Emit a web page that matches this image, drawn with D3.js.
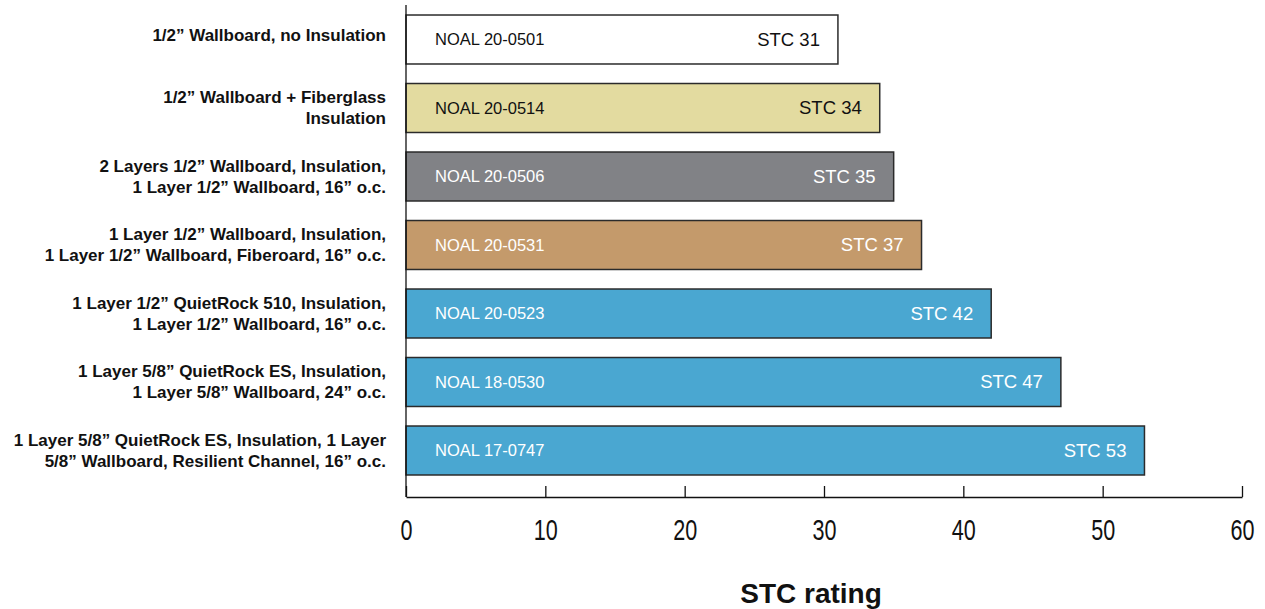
<!DOCTYPE html>
<html><head><meta charset="utf-8">
<script src="https://cdn.jsdelivr.net/npm/d3@7"></script>
<style>body{margin:0;background:#fff}svg{display:block}</style>
</head><body>
<svg id="c" width="1265" height="609"></svg>
<script>
const categories = [
  ["1/2\u201D Wallboard, no Insulation"],
  ["1/2\u201D Wallboard + Fiberglass", "Insulation"],
  ["2 Layers 1/2\u201D Wallboard, Insulation,", "1 Layer 1/2\u201D Wallboard, 16\u201D o.c."],
  ["1 Layer 1/2\u201D Wallboard, Insulation,", "1 Layer 1/2\u201D Wallboard, Fiberoard, 16\u201D o.c."],
  ["1 Layer 1/2\u201D QuietRock 510, Insulation,", "1 Layer 1/2\u201D Wallboard, 16\u201D o.c."],
  ["1 Layer 5/8\u201D QuietRock ES, Insulation,", "1 Layer 5/8\u201D Wallboard, 24\u201D o.c."],
  ["1 Layer 5/8\u201D QuietRock ES, Insulation, 1 Layer", "5/8\u201D Wallboard, Resilient Channel, 16\u201D o.c."]
];
const reports = ["NOAL 20-0501","NOAL 20-0514","NOAL 20-0506","NOAL 20-0531","NOAL 20-0523","NOAL 18-0530","NOAL 17-0747"];
const stcValues = [31, 34, 35, 37, 42, 47, 53];
const barColors = ["#ffffff","#e3dba0","#818286","#c49a6b","#4aa7d1","#4aa7d1","#4aa7d1"];
const textColors = ["#111","#111","#fff","#fff","#fff","#fff","#fff"];
const xTicks = [0,10,20,30,40,50,60];
const xTitle = "STC rating";

const svg = d3.select("#c");
const x = d3.scaleLinear().domain([0,60]).range([406,1242]);
const idx = d3.range(categories.length);
const y = d3.scaleBand().domain(idx).range([5.25,484.75]).paddingInner(0.285).paddingOuter(0.1425);

// bars
svg.selectAll("rect.bar").data(idx).join("rect")
  .attr("class","bar")
  .attr("x", x(0)).attr("y", i=>y(i))
  .attr("width", i=>x(stcValues[i])-x(0)).attr("height", y.bandwidth())
  .attr("fill", i=>barColors[i]).attr("stroke","#2b2b2b").attr("stroke-width",1.5);

// inner labels
const lblFont = "'Liberation Sans', Arial, Helvetica, sans-serif";
svg.selectAll("text.rep").data(idx).join("text")
  .attr("x", x(0)+29).attr("y", i=>y(i)+y.bandwidth()/2)
  .attr("dy","0.35em").attr("font-family",lblFont).attr("font-size",16.5)
  .attr("fill", i=>textColors[i]).text(i=>reports[i]);
svg.selectAll("text.stc").data(idx).join("text")
  .attr("x", i=>x(stcValues[i])-18).attr("y", i=>y(i)+y.bandwidth()/2)
  .attr("dy","0.35em").attr("text-anchor","end").attr("font-family",lblFont).attr("font-size",18.5)
  .attr("fill", i=>textColors[i]).text(i=>"STC " + stcValues[i]);

// category labels
const cat = svg.selectAll("text.cat").data(idx).join("text")
  .attr("text-anchor","end").attr("font-family",lblFont).attr("font-size",17).attr("font-weight","bold")
  .attr("fill","#111");
cat.each(function(i){
  const lines = categories[i];
  const cy = y(i)+y.bandwidth()/2 - (lines.length === 1 ? 4.5 : 0);
  const lh = 21;
  const t = d3.select(this);
  lines.forEach((l,k)=>{
    t.append("tspan").attr("x",386).attr("y", cy + (k-(lines.length-1)/2)*lh).attr("dy","0.35em").text(l);
  });
});

// y axis line
svg.append("line").attr("x1",x(0)).attr("x2",x(0)).attr("y1",5).attr("y2",497).attr("stroke","#111").attr("stroke-width",1.3);

// x axis
const xAxis = d3.axisBottom(x).tickValues(xTicks).tickSize(-11).tickPadding(22).tickSizeOuter(0);
const gx = svg.append("g").attr("transform","translate(0,497)").call(xAxis);
gx.select(".domain").attr("stroke","#111").attr("stroke-width",1.3);
gx.selectAll(".tick line").attr("stroke","#111").attr("stroke-width",1.3);
gx.selectAll(".tick text").attr("font-family",lblFont)
  .attr("font-size",30).attr("fill","#111").attr("transform","scale(0.72,1)");

svg.append("text").attr("x",811).attr("y",603).attr("text-anchor","middle")
  .attr("font-family",lblFont).attr("font-weight","bold").attr("font-size",28).attr("fill","#111").text(xTitle);
</script>
</body></html>
